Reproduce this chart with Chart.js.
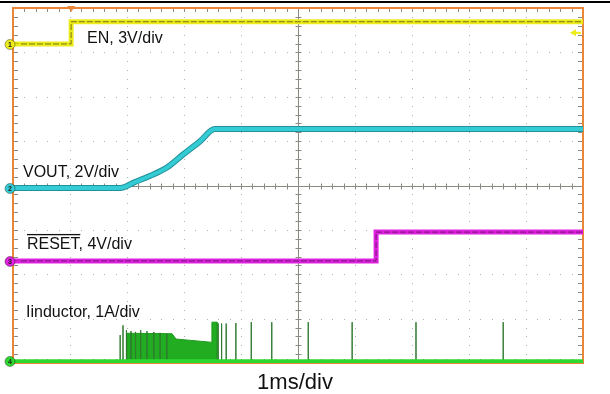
<!DOCTYPE html>
<html>
<head>
<meta charset="utf-8">
<script src="https://cdn.jsdelivr.net/npm/chart.js@4/dist/chart.umd.min.js"></script>
<style>
html,body{margin:0;padding:0;background:#fff;}
canvas{display:block;}
</style>
</head>
<body>
<canvas id="scope" width="610" height="394"></canvas>
<script>
// time in ms (1ms/div, 10 div on screen)
const timeSpan = [0, 10];

// CH1 EN (V)
const enTime  = [0, 1.02, 1.02, 10];
const enVolts = [0, 0, 1.5, 1.5];

// CH2 VOUT (V)
const voutTime  = [0, 1.88, 2.14, 2.40, 2.70, 2.98, 3.28, 3.54, 10];
const voutVolts = [0, 0, 0.27, 0.54, 0.92, 1.50, 2.10, 2.66, 2.66];

// CH3 RESET (V)
const resetTime  = [0, 6.37, 6.37, 10];
const resetVolts = [0, 0, 2.6, 2.6];

// CH4 inductor current (A): burst envelope and single pulses
const burstTime = [2.00, 2.00, 2.79, 2.86, 3.46, 3.49, 3.49, 3.58, 3.58];
const burstAmps = [0, 0.63, 0.62, 0.50, 0.43, 0.43, 0.88, 0.88, 0];
const pulseTime = [1.88, 1.93, 1.99, 2.07, 2.15, 2.24, 2.35, 2.47, 2.58, 2.70,
                   3.60, 3.66, 3.74, 3.91, 4.18, 4.54, 5.18, 5.95, 7.07, 8.60];
const pulseAmps = [0.59, 0.81, 0.70, 0.68, 0.66, 0.70, 0.68, 0.66, 0.64, 0.62,
                   0.85, 0.85, 0.85, 0.86, 0.88, 0.88, 0.88, 0.88, 0.88, 0.88];

// scope settings per channel
const chanNames = ['EN, 3V/div', 'VOUT, 2V/div', 'RESET, 4V/div', 'Iinductor, 1A/div'];
const perDiv    = [3, 2, 4, 1];
const groundDiv = [3.19, -0.056, -1.70, -3.96];
const chanColor = ['#ecec1c', '#34ccd4', '#e020e0', '#2ed82e'];
const timeLabel = '1ms/div';
const trigLevel = 0.75;

const pts = (xs, ys) => xs.map((x, i) => ({x: x, y: ys[i]}));
const pulsePts = pulseTime.flatMap((t, i) => [{x: t, y: 0}, {x: t, y: pulseAmps[i]}, {x: t, y: 0}]);

function chanScale(k) {
  return {
    type: 'linear', display: false,
    min: (-4 - groundDiv[k]) * perDiv[k],
    max: (4 - groundDiv[k]) * perDiv[k]
  };
}

const FONT = '"Liberation Sans", Arial, sans-serif';

// graticule, drawn under the traces
const scopeGrid = {
  id: 'scopeGrid',
  beforeDatasetsDraw(chart) {
    const {ctx, chartArea: a} = chart;
    const w = a.right - a.left, h = a.bottom - a.top;
    const dx = w / 10, dy = h / 8;
    ctx.save();
    ctx.fillStyle = '#000';
    ctx.fillRect(0, 1, chart.width, 2);

    // dotted division lines
    ctx.fillStyle = '#b0b0b0';
    for (let i = 1; i < 10; i++) {
      if (i === 5) continue;
      const x = Math.round(a.left + i * dx);
      for (let j = 1; j < 40; j++) ctx.fillRect(x, Math.round(a.top + j * dy / 5), 1, 1);
    }
    for (let i = 1; i < 8; i++) {
      if (i === 4) continue;
      const y = Math.round(a.top + i * dy);
      for (let j = 1; j < 50; j++) ctx.fillRect(Math.round(a.left + j * dx / 5), y, 1, 1);
    }

    // centre cross with minor ticks
    const cx = Math.round(a.left + w / 2) + 0.5, cy = Math.round(a.top + h / 2) + 0.5;
    ctx.strokeStyle = '#8a8a82';
    ctx.lineWidth = 1;
    ctx.beginPath();
    ctx.moveTo(cx, a.top); ctx.lineTo(cx, a.bottom);
    ctx.moveTo(a.left, cy); ctx.lineTo(a.right, cy);
    for (let j = 1; j < 50; j++) {
      const x = Math.round(a.left + j * dx / 5) + 0.5;
      ctx.moveTo(x, cy - 3); ctx.lineTo(x, cy + 3);
      ctx.moveTo(x, a.top); ctx.lineTo(x, a.top + 4);
      ctx.moveTo(x, a.bottom); ctx.lineTo(x, a.bottom - 4);
    }
    for (let j = 1; j < 40; j++) {
      const y = Math.round(a.top + j * dy / 5) + 0.5;
      ctx.moveTo(cx - 3, y); ctx.lineTo(cx + 3, y);
      ctx.moveTo(a.left, y); ctx.lineTo(a.left + 5, y);
      ctx.moveTo(a.right, y); ctx.lineTo(a.right - 5, y);
    }
    ctx.stroke();

    // orange frame
    ctx.strokeStyle = '#e8873a';
    ctx.lineWidth = 2;
    ctx.strokeRect(a.left, a.top, w, h);
    ctx.restore();
  },
  afterDatasetsDraw(chart) {
    const {ctx, chartArea: a, scales} = chart;
    const xs = scales.x, ds = scales.yDiv;
    ctx.save();

    // channel ground markers
    ['y1', 'y2', 'y3', 'y4'].forEach((id, k) => {
      const y = Math.round(scales[id].getPixelForValue(0)) + 0.5;
      ctx.strokeStyle = chanColor[k];
      ctx.lineWidth = 2;
      ctx.beginPath(); ctx.moveTo(10, y); ctx.lineTo(21, y); ctx.stroke();
      ctx.beginPath();
      ctx.arc(10, y, 5, 0, Math.PI * 2);
      ctx.fillStyle = chanColor[k];
      ctx.fill();
      ctx.lineWidth = 1;
      ctx.strokeStyle = 'rgba(0,0,0,0.35)';
      ctx.stroke();
      ctx.fillStyle = '#222';
      ctx.font = 'bold 7px ' + FONT;
      ctx.textAlign = 'center';
      ctx.textBaseline = 'middle';
      ctx.fillText(String(k + 1), 10, y + 0.5);
    });

    // trigger position (top) and trigger level (right)
    const tx = xs.getPixelForValue(enTime[1]);
    ctx.fillStyle = '#e8873a';
    ctx.beginPath();
    ctx.moveTo(tx - 4, a.top - 2); ctx.lineTo(tx + 4, a.top - 2); ctx.lineTo(tx, a.top + 4);
    ctx.closePath(); ctx.fill();
    const ty = scales.y1.getPixelForValue(trigLevel);
    ctx.strokeStyle = chanColor[0];
    ctx.lineWidth = 2;
    ctx.beginPath(); ctx.moveTo(a.right - 2, ty); ctx.lineTo(a.right - 8, ty); ctx.stroke();
    ctx.fillStyle = chanColor[0];
    ctx.beginPath();
    ctx.moveTo(a.right - 13, ty); ctx.lineTo(a.right - 7, ty - 3.5); ctx.lineTo(a.right - 7, ty + 3.5);
    ctx.closePath(); ctx.fill();

    // channel labels
    const labelPos = [[1.30, 3.21], [0.175, 0.19], [0.245, -1.43], [0.228, -2.96]];
    ctx.fillStyle = '#111';
    ctx.font = '16px ' + FONT;
    ctx.textAlign = 'left';
    ctx.textBaseline = 'alphabetic';
    chanNames.forEach((name, k) => {
      const x = xs.getPixelForValue(labelPos[k][0]);
      const y = ds.getPixelForValue(labelPos[k][1]);
      ctx.fillText(name, x, y);
      if (k === 2) {
        const ow = ctx.measureText('RESET').width;
        ctx.fillRect(x, y - 15, ow, 1.3);
      }
    });

    // time base
    ctx.font = '22px ' + FONT;
    ctx.textAlign = 'center';
    ctx.fillText(timeLabel, xs.getPixelForValue(timeSpan[1] / 2) - 3, 389);
    ctx.restore();
  }
};

new Chart(document.getElementById('scope'), {
  type: 'line',
  data: {
    datasets: [
      // EN
      {data: pts(enTime, enVolts), yAxisID: 'y1', borderColor: '#74741a', borderWidth: 1, borderDash: [6, 2], order: 0},
      {data: pts(enTime, enVolts), yAxisID: 'y1', borderColor: chanColor[0], borderWidth: 5, order: 1},
      // VOUT
      {data: pts(voutTime, voutVolts), yAxisID: 'y2', borderColor: chanColor[1], borderWidth: 4, cubicInterpolationMode: 'monotone', order: 0},
      {data: pts(voutTime, voutVolts), yAxisID: 'y2', borderColor: '#23909a', borderWidth: 6, cubicInterpolationMode: 'monotone', order: 1},
      // RESET
      {data: pts(resetTime, resetVolts), yAxisID: 'y3', borderColor: '#6e1c6e', borderWidth: 1, borderDash: [6, 2], order: 0},
      {data: pts(resetTime, resetVolts), yAxisID: 'y3', borderColor: chanColor[2], borderWidth: 5, order: 1},
      // inductor current
      {data: pts(timeSpan, [0, 0]), yAxisID: 'y4', borderColor: chanColor[3], borderWidth: 4, order: 0},
      {data: pulsePts, yAxisID: 'y4', borderColor: '#2f7a2f', borderWidth: 1, order: 1},
      {data: pts(burstTime, burstAmps), yAxisID: 'y4', borderColor: '#1f9a1f', backgroundColor: '#22ac22', borderWidth: 1, fill: 'origin', order: 2}
    ]
  },
  options: {
    responsive: false,
    animation: false,
    devicePixelRatio: 1,
    layout: {padding: {left: 13, top: 8, right: 27, bottom: 31}},
    elements: {point: {radius: 0}, line: {tension: 0}},
    plugins: {legend: {display: false}, tooltip: {enabled: false}},
    scales: {
      x: {type: 'linear', display: false, min: timeSpan[0], max: timeSpan[1]},
      yDiv: {type: 'linear', display: false, min: -4, max: 4},
      y1: chanScale(0),
      y2: chanScale(1),
      y3: chanScale(2),
      y4: chanScale(3)
    }
  },
  plugins: [scopeGrid]
});
</script>
</body>
</html>
